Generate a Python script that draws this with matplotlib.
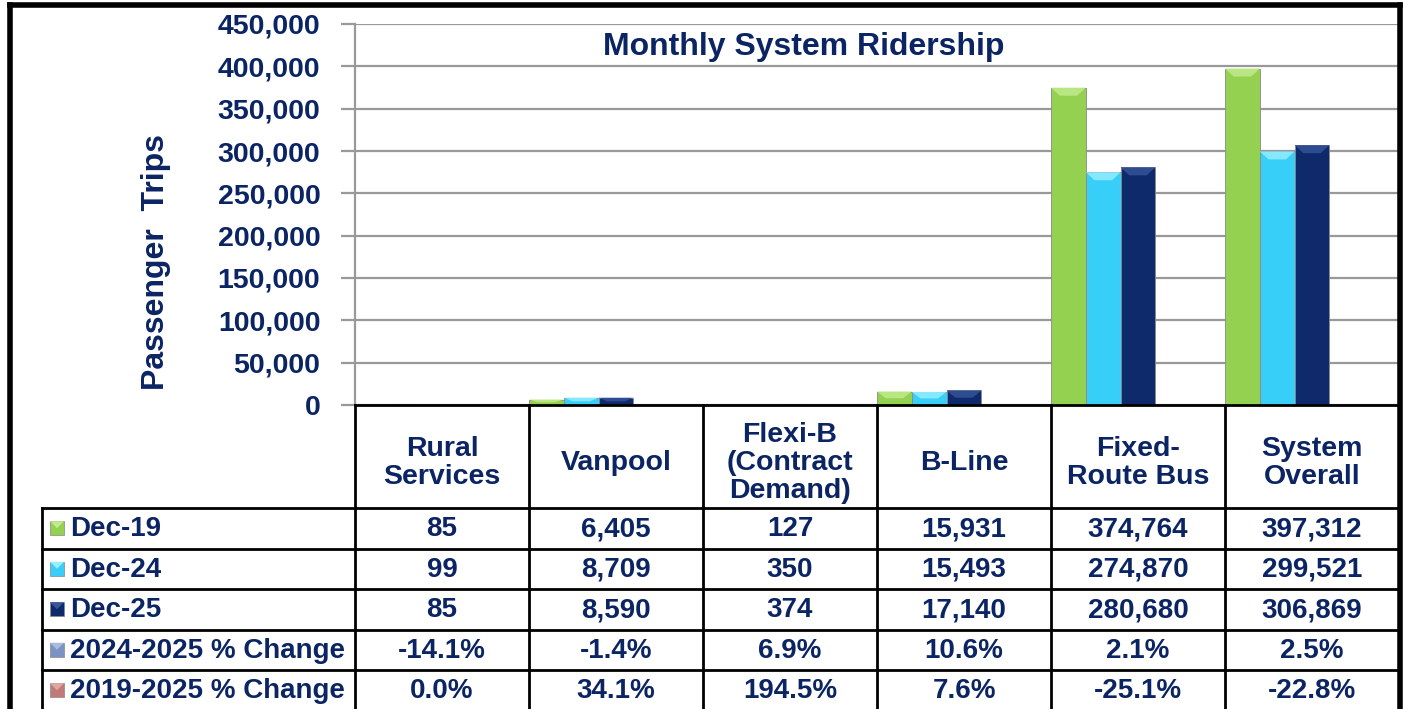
import numpy as np
import matplotlib
matplotlib.use("Agg")
import matplotlib.pyplot as plt
from matplotlib.patches import Polygon, Rectangle

plt.rcParams['font.family'] = ['Liberation Sans', 'DejaVu Sans']

# Data
categories = ["Rural\nServices", "Vanpool", "Flexi-B\n(Contract\nDemand)", "B-Line", "Fixed-\nRoute Bus", "System\nOverall"]
dec19 = [85, 6405, 127, 15931, 374764, 397312]
dec24 = [99, 8709, 350, 15493, 274870, 299521]
dec25 = [85, 8590, 374, 17140, 280680, 306869]
chg_24_25 = ["-14.1%", "-1.4%", "6.9%", "10.6%", "2.1%", "2.5%"]
chg_19_25 = ["0.0%", "34.1%", "194.5%", "7.6%", "-25.1%", "-22.8%"]
row_labels = ["Dec-19", "Dec-24", "Dec-25", "2024-2025 % Change", "2019-2025 % Change"]

NAVY_TXT = "#0B2463"
bar_colors = ["#95D150", "#37CFF8", "#0F2A6B"]
cap_colors = ["#B9E582", "#86E8FF", "#2E4C92"]
key_colors = ["#95D150", "#37CFF8", "#0F2A6B", "#7A93C2", "#C27A78"]
key_caps = ["#C4EA8E", "#9BEDFF", "#3A5698", "#A8BCDD", "#E0A6A4"]

W, H = 1405, 709
fig = plt.figure(figsize=(W / 100, H / 100), dpi=100)

# plot area in pixels
px_left, px_right, px_top, px_bot = 355, 1399, 24, 405
ax = fig.add_axes([px_left / W, 1 - px_bot / H, (px_right - px_left) / W, (px_bot - px_top) / H])

n = len(categories)
series = [dec19, dec24, dec25]
bw = 0.2
ymax = 450000
cap_h = ymax * 8 / (px_bot - px_top)

for j, vals in enumerate(series):
    xs = np.arange(n) + bw / 2 + j * bw
    ax.bar(xs, vals, width=bw, color=bar_colors[j], edgecolor="#8a8a8a", linewidth=0.6, zorder=3)
    # bevelled top of each bar
    for x, v in zip(xs, vals):
        h = min(cap_h, v * 0.5)
        inset = bw * 0.25
        poly = Polygon([(x - bw / 2, v), (x + bw / 2, v), (x + bw / 2 - inset, v - h), (x - bw / 2 + inset, v - h)],
                       closed=True, facecolor=cap_colors[j], edgecolor="none", zorder=4)
        ax.add_patch(poly)

ax.set_xlim(0, n)
ax.set_ylim(0, ymax)
ax.set_yticks(np.arange(0, ymax + 1, 50000))
ax.set_yticklabels([f"{v:,}" for v in range(0, ymax + 1, 50000)])
ax.set_xticks([])
ax.yaxis.grid(True, color="#999999", linewidth=1.6, zorder=0)
ax.tick_params(axis="y", length=10, width=1.6, color="#999999", labelsize=20.5, labelcolor=NAVY_TXT, pad=15)
for lab in ax.get_yticklabels():
    lab.set_fontweight("bold")
ax.spines["left"].set_color("#999999")
ax.spines["left"].set_linewidth(1.6)
ax.spines["top"].set_visible(False)
ax.spines["right"].set_visible(False)
ax.spines["bottom"].set_visible(False)
ax.set_ylabel("Passenger  Trips", fontsize=23, fontweight="bold", color=NAVY_TXT)
ax.yaxis.set_label_coords(-0.176, 0.375)
ax.text(0.43, 0.94, "Monthly System Ridership", transform=ax.transAxes, ha="center", va="center",
        fontsize=23, fontweight="bold", color=NAVY_TXT, zorder=5)

# overlay in pixel coordinates for the data table and frame
ov = fig.add_axes([0, 0, 1, 1], facecolor="none")
ov.set_xlim(0, W)
ov.set_ylim(H, 0)
ov.axis("off")

col_w = (px_right - px_left) / n
col_x = [px_left + i * col_w for i in range(n + 1)]
tab_left = 42
head_bot = 508
row_h = 40.5
row_y = [head_bot + i * row_h for i in range(len(row_labels) + 1)]
lw = 2.0

# horizontal lines
ov.plot([px_left, px_right], [px_bot, px_bot], color="black", lw=lw)
for y in row_y[:-1]:
    ov.plot([tab_left, px_right], [y, y], color="black", lw=lw)
# vertical lines
for x in col_x:
    ov.plot([x, x], [px_bot, H + 5], color="black", lw=lw)
ov.plot([tab_left, tab_left], [head_bot, H + 5], color="black", lw=lw)

# header text
for i, cat in enumerate(categories):
    cx = (col_x[i] + col_x[i + 1]) / 2
    ov.text(cx, (px_bot + head_bot) / 2 + 6, cat, ha="center", va="center", fontsize=20.5,
            fontweight="bold", color=NAVY_TXT, linespacing=1.1)

# rows
table_rows = [[f"{v:,}" for v in dec19], [f"{v:,}" for v in dec24], [f"{v:,}" for v in dec25],
              chg_24_25, chg_19_25]
for r, (lab, vals) in enumerate(zip(row_labels, table_rows)):
    cy = (row_y[r] + row_y[r + 1]) / 2
    # legend key
    k = 14
    ov.add_patch(Rectangle((50, cy - k / 2), k, k, facecolor=key_colors[r], edgecolor="#888888", lw=0.5))
    ov.add_patch(Polygon([(50, cy - k / 2), (50 + k, cy - k / 2), (50 + k / 2, cy)], closed=True,
                         facecolor=key_caps[r], edgecolor="none"))
    ov.text(70, cy + 1, lab, ha="left", va="center", fontsize=20, fontweight="bold", color=NAVY_TXT)
    for i, v in enumerate(vals):
        cx = (col_x[i] + col_x[i + 1]) / 2
        ov.text(cx, cy + 1, v, ha="center", va="center", fontsize=20, fontweight="bold", color=NAVY_TXT)

# outer frame
ov.plot([10, 10], [5, H + 5], color="black", lw=4)
ov.plot([10, 1400], [5, 5], color="black", lw=4)
ov.plot([1400, 1400], [5, H + 5], color="black", lw=4)

fig.savefig("out.png", dpi=100)
